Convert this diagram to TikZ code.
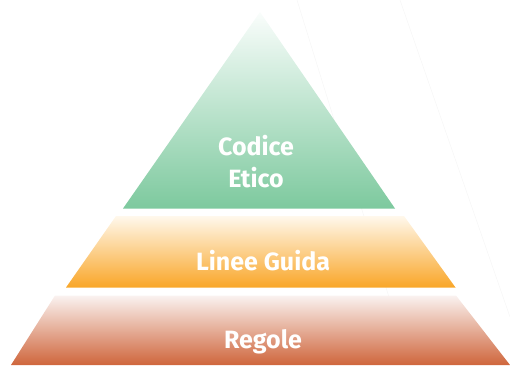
\documentclass[tikz,border=0pt]{standalone}
\usepackage{fontspec}
\setmainfont{Fira Sans}
\begin{document}
\begin{tikzpicture}[x=1pt,y=-1pt,
  level/.style={draw=none},
  label/.style={text=white,font=\fontsize{25}{32}\selectfont\bfseries,align=center,inner sep=0pt},
  ghost/.style={draw=black!3,line width=0.6pt}]
\useasboundingbox (0,0) rectangle (510,365);
% faint guide strokes behind the pyramid
\draw[ghost] (297,0) -- (410,365);
\draw[ghost] (400,0) -- (510,317);
% top level
\shade[level,top color=green!30!teal!2!white,bottom color={rgb,255:red,125;green,201;blue,158}]
  (260,12) -- (395,208.5) -- (123,208.5) -- cycle;
% middle level
\shade[level,top color={rgb,255:red,255;green,248;blue,236},bottom color={rgb,255:red,249;green,166;blue,40}]
  (116,216) -- (404,216) -- (455.5,287.5) -- (66,287.5) -- cycle;
% bottom level
\shade[level,top color={rgb,255:red,250;green,242;blue,240},bottom color={rgb,255:red,207;green,102;blue,60}]
  (55,295.5) -- (456,295.5) -- (510,365) -- (11,365) -- cycle;
% labels
\node[label,anchor=base] (codice) at (256,187) {Codice\\Etico};
\node[label,anchor=base] (linee) at (263,270) {Linee Guida};
\node[label,anchor=base] (regole) at (263,348) {Regole};
\end{tikzpicture}
\end{document}
